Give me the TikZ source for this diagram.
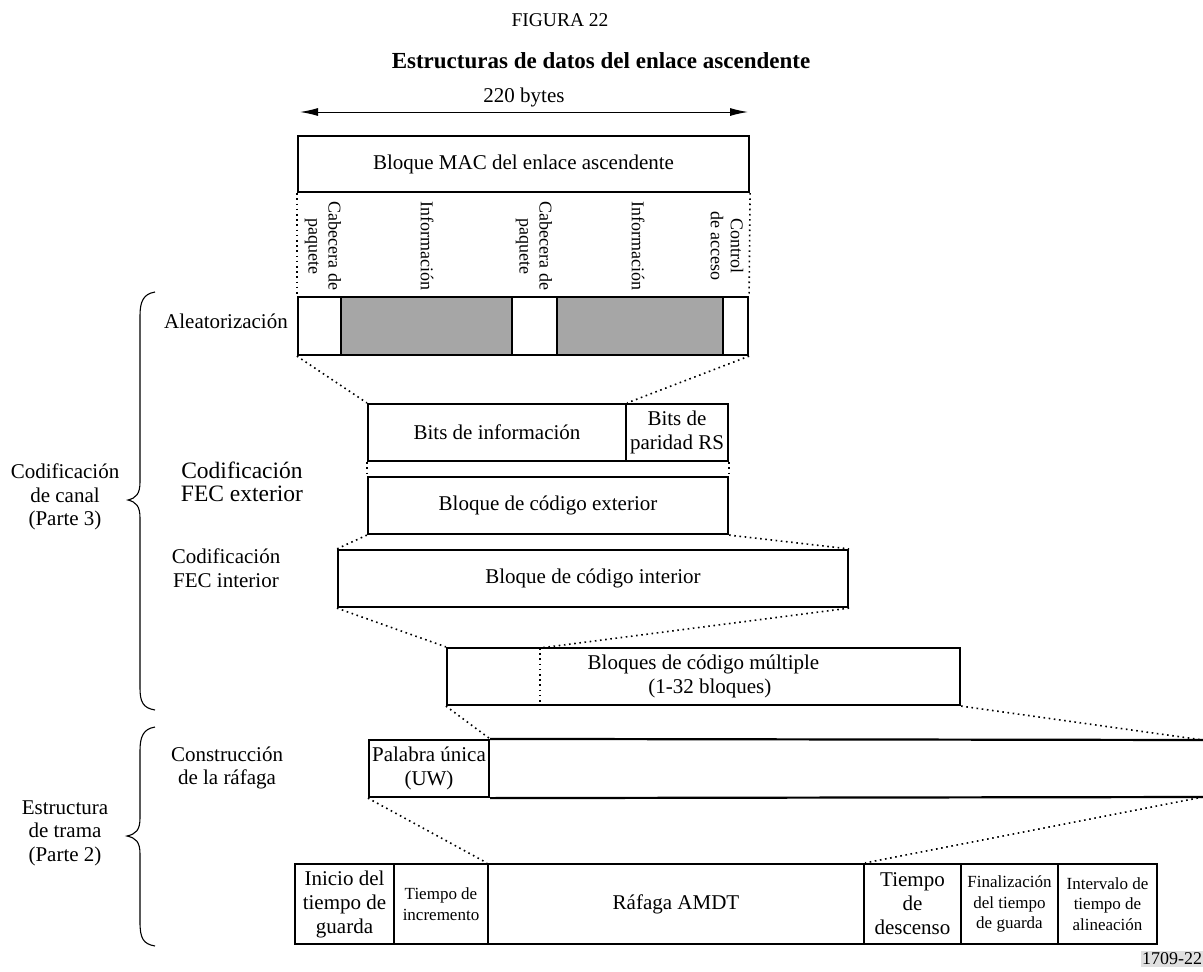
\documentclass[tikz,border=0pt]{standalone}
\usepackage{fontspec}
\setmainfont{Liberation Serif}
\usetikzlibrary{arrows.meta}
\newcommand\fsmain{\fontsize{21}{23.5}\selectfont}
\newcommand\fsbig{\fontsize{23.5}{23.5}\selectfont}
\newcommand\fssmall{\fontsize{17}{20.5}\selectfont}
\newcommand\fsrot{\fontsize{18}{20}\selectfont}
\newcommand\fsmid{\fontsize{21}{24}\selectfont}
\begin{document}
\begin{tikzpicture}[x=1pt,y=-1pt,
  box/.style={draw, line width=2.2pt, inner sep=0pt, align=center, font=\fsmain},
  gbox/.style={box, fill=graycell},
  dots/.style={line width=1.6pt, dash pattern=on 1.6pt off 3.6pt},
  lbl/.style={inner sep=0pt, align=center, font=\fsmain},
  rot/.style={inner sep=0pt, align=center, font=\fsrot, rotate=-90},
  brace/.style={line width=1.1pt}
]
\definecolor{graycell}{HTML}{A6A6A6}
\useasboundingbox (0,0) rectangle (1203,972);

% titles
\node[lbl, font=\fontsize{19.5}{20}\selectfont] (fig) at (560,20) {FIGURA 22};
\node[lbl, font=\fontsize{23}{24}\selectfont\bfseries] (title) at (601,61) {Estructuras de datos del enlace ascendente};

% width arrow
\coordinate (arL) at (300,112);
\coordinate (arR) at (748,112);
\draw[line width=1pt, {Latex[length=18pt,width=8pt]}-{Latex[length=18pt,width=8pt]}] (arL) -- (arR);
\node[lbl] (bytes) at (524,97) {220 bytes};

% MAC block
\node[box, minimum width=451, minimum height=56] (mac) at (523.5,164) {Bloque MAC del enlace ascendente};

% rotated labels
\node[rot] (r1) at (323,246) {Cabecera de\\paquete};
\node[rot] (r2) at (427,246) {Información};
\node[rot] (r3) at (534,246) {Cabecera de\\paquete};
\node[rot] (r4) at (638,246) {Información};
\node[rot] (r5) at (727,246) {Control\\de acceso};

% aleatorization row
\node[box, minimum width=43, minimum height=58] (a1) at (319.5,326) {};
\node[gbox, minimum width=171, minimum height=58] (a2) at (426.5,326) {};
\node[box, minimum width=45, minimum height=58] (a3) at (534.5,326) {};
\node[gbox, minimum width=166, minimum height=58] (a4) at (640,326) {};
\node[box, minimum width=25, minimum height=58] (a5) at (735.5,326) {};
\node[lbl] (laleat) at (226,321) {Aleatorización};

\draw[dots] (mac.south west) -- (a1.north west);
\draw[dots] (mac.south east) -- (a5.north east);

% bits
\node[box, minimum width=258, minimum height=57] (bits) at (497,432.5) {Bits de información};
\node[box, minimum width=102, minimum height=57] (rs) at (677,432.5) {Bits de\\paridad RS};
\draw[dots] (a1.south west) -- (bits.north west);
\draw[dots] (a5.south east) -- (bits.north east);

% outer block
\node[box, minimum width=360, minimum height=57] (ext) at (548,505.5) {Bloque de código exterior};
\draw[dots] (bits.south west) -- (ext.north west);
\draw[dots] (rs.south east) -- (ext.north east);
\node[lbl, font=\fsbig] (lext) at (242,482) {Codificación\\FEC exterior};

% inner block
\node[box, minimum width=510, minimum height=57] (int) at (593,578.5) {Bloque de código interior};
\draw[dots] (ext.south west) -- (int.north west);
\draw[dots] (ext.south east) -- (int.north east);
\node[lbl] (lint) at (226,568) {Codificación\\FEC interior};

% multiple blocks
\node[box, minimum width=513, minimum height=57] (multi) at (703.5,676.5) {Bloques de código múltiple\\\hspace*{0.6em}(1-32 bloques)};
\coordinate (mdivT) at (540,648);
\coordinate (mdivB) at (540,705);
\draw[dots] (mdivT) -- (mdivB);
\draw[dots] (int.south west) -- (multi.north west);
\draw[dots] (int.south east) -- (mdivT);

% burst construction
\node[box, minimum width=120, minimum height=57] (uw) at (429,768.5) {Palabra única\\(UW)};
\coordinate (bTR) at (1203,740);
\coordinate (bBR) at (1203,797);
\draw[line width=2.2pt] (uw.north east) -- (bTR);
\draw[line width=2.2pt] (uw.south east) -- (bBR);
\draw[dots] (multi.south west) -- (uw.north east);
\draw[dots] (multi.south east) -- (bTR);
\node[lbl] (lburst) at (227,768) {Construcción\\de la ráfaga};

% bottom row
\node[box, minimum width=99, minimum height=80, font=\fsmid] (b1) at (344.5,904) {Inicio del\\tiempo de\\guarda};
\node[box, minimum width=94, minimum height=80, font=\fssmall] (b2) at (441,904) {Tiempo de\\incremento};
\node[box, minimum width=376, minimum height=80] (b3) at (676,904) {Ráfaga AMDT};
\node[box, minimum width=97, minimum height=80, font=\fsmid] (b4) at (912.5,904) {Tiempo\\de\\descenso};
\node[box, minimum width=97, minimum height=80, font=\fssmall] (b5) at (1009.5,904) {Finalización\\del tiempo\\de guarda};
\node[box, minimum width=99, minimum height=80, font=\fssmall] (b6) at (1107.5,904) {Intervalo de\\tiempo de\\alineación};
\draw[dots] (uw.south west) -- (b3.north west);
\draw[dots] (bBR) -- (b3.north east);

% braces
\draw[brace] (155,292) .. controls (143,294) and (140,302) .. (140,316) -- (140,482)
  .. controls (140,494) and (136,498) .. (128,500)
  .. controls (136,502) and (140,506) .. (140,518) -- (140,688)
  .. controls (140,702) and (143,708) .. (155,710);
\node[lbl] (lcanal) at (65,497) {Codificación\\de canal\\(Parte 3)};

\draw[brace] (155,727) .. controls (143,729) and (140,737) .. (140,751) -- (140,818)
  .. controls (140,830) and (136,834) .. (127,836)
  .. controls (136,838) and (140,842) .. (140,854) -- (140,922)
  .. controls (140,938) and (143,944) .. (155,946);
\node[lbl] (ltrama) at (65,833) {Estructura\\de trama\\(Parte 2)};

% figure code
\node[inner sep=1.5pt, fill=black!12, font=\fontsize{18}{18}\selectfont] (code) at (1172,959) {1709-22};
\end{tikzpicture}
\end{document}
